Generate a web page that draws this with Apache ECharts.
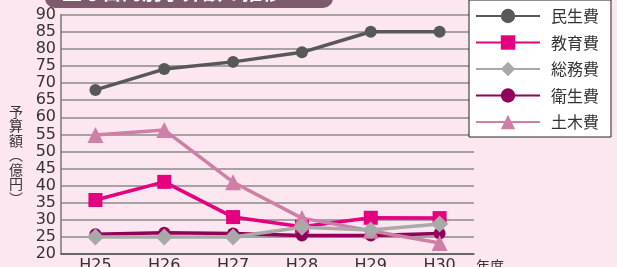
<!DOCTYPE html>
<html>
<head>
<meta charset="utf-8">
<script src="https://cdn.jsdelivr.net/npm/echarts@6/dist/echarts.min.js"></script>
<style>
  html, body { margin: 0; padding: 0; background: #fce6ef; }
  #chart { width: 617px; height: 267px; }
</style>
</head>
<body>
<div id="chart"></div>
<script>
const years = ['H25', 'H26', 'H27', 'H28', 'H29', 'H30'];
const minsei = [68, 74.1, 76.2, 79, 85, 85];
const kyoiku = [35.8, 41.1, 30.8, 28, 30.6, 30.5];
const somu = [25, 25, 25, 27.8, 27, 28.8];
const eisei = [25.8, 26.2, 26, 25.4, 25.4, 26];
const doboku = [54.8, 56.3, 41, 30.5, 26.8, 23.2];

const font = '"DejaVu Sans", "Noto Sans CJK JP", sans-serif';
const cjk = '"Noto Sans CJK JP", sans-serif';

let chartDom = document.getElementById('chart');
let myChart = echarts.init(chartDom);

const makeSeries = (name, data, color, symbol, symbolSize, z) => ({
    name,
    type: 'line',
    data,
    color,
    symbol,
    symbolSize,
    z,
    lineStyle: { width: 3.5, color },
    itemStyle: { color },
    animation: false,
});

const option = {
    backgroundColor: '#fce6ef',
    grid: { left: 61, right: 143, top: 14.7, bottom: 13, outerBoundsMode: 'none', containLabel: false },
    legend: {
        orient: 'vertical',
        left: 469,
        top: 0,
        padding: [8, 12, 7, 6],
        itemWidth: 64,
        itemHeight: 18,
        itemGap: 10.5,
        backgroundColor: '#ffffff',
        borderColor: '#222',
        borderWidth: 1,
        textStyle: { fontFamily: cjk, fontSize: 16, color: '#333', padding: [0, 0, 0, 6] },
        data: ['民生費', '教育費', '総務費', '衛生費', '土木費'],
    },
    xAxis: {
        type: 'category',
        data: years,
        boundaryGap: true,
        name: '年度',
        nameGap: 2,
        nameTextStyle: { fontFamily: cjk, fontSize: 14, color: '#333', verticalAlign: 'top', padding: [5, 0, 0, 0] },
        axisLine: { lineStyle: { color: '#555', width: 1.5 } },
        axisTick: { inside: true, length: 6, lineStyle: { color: '#555', width: 1.5 } },
        axisLabel: { fontFamily: font, fontSize: 16, color: '#333', margin: 4 },
        splitLine: { show: false },
    },
    yAxis: {
        type: 'value',
        min: 20,
        max: 90,
        interval: 5,
        axisLine: { show: true, lineStyle: { color: '#777', width: 1.5 } },
        axisTick: { show: false },
        axisLabel: { fontFamily: font, fontSize: 16, color: '#333', margin: 5 },
        splitLine: { lineStyle: { color: '#8a8a8a', width: 1.5 } },
    },
    graphic: [
        {
            type: 'rect',
            left: 45,
            top: -20,
            shape: { width: 288, height: 28, r: 10 },
            style: { fill: '#7d5a6c' },
        },
        {
            type: 'text',
            left: 62,
            top: -18,
            style: { text: '主な目的別予算額の推移', fill: '#fff', fontFamily: cjk, fontSize: 20, fontWeight: 'bold' },
        },
        {
            type: 'text',
            left: 9,
            top: 104,
            style: {
                text: '予\n算\n額\n︵\n億\n円\n︶',
                fill: '#333',
                fontFamily: cjk,
                fontSize: 14,
                lineHeight: 14.5,
            },
        },
    ],
    series: [
        makeSeries('民生費', minsei, '#585858', 'circle', 12, 2),
        makeSeries('教育費', kyoiku, '#e4007f', 'rect', 14, 2),
        makeSeries('総務費', somu, '#a9a9a9', 'diamond', 17, 3),
        makeSeries('衛生費', eisei, '#93005a', 'circle', 12, 2),
        makeSeries('土木費', doboku, '#cf7fa6', 'triangle', 16, 2),
    ],
};

myChart.setOption(option);
</script>
</body>
</html>
